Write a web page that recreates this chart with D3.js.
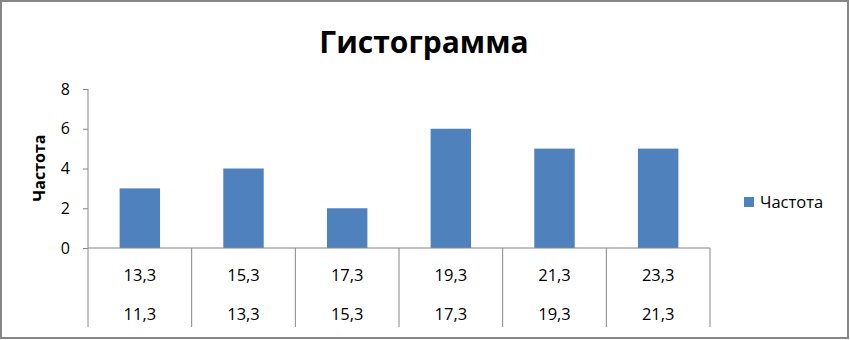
<!DOCTYPE html>
<html><head><meta charset="utf-8">
<script src="https://cdn.jsdelivr.net/npm/d3@7"></script>
<style>body{margin:0;background:#fff}svg{display:block}</style>
</head><body>
<script>
const upperLabels = ["13,3","15,3","17,3","19,3","21,3","23,3"];
const lowerLabels = ["11,3","13,3","15,3","17,3","19,3","21,3"];
const frequency = [3,4,2,6,5,5];
const yTicks = [0,2,4,6,8];
const seriesName = "Частота";
const titleText = "Гистограмма";

(function(){
const W = 850, H = 340;
const font = "Open Sans, Liberation Sans, sans-serif";
const svg = d3.select("body").append("svg").attr("width", W).attr("height", H);

svg.append("rect").attr("x",1).attr("y",1).attr("width",W-3).attr("height",H-3)
  .attr("fill","#fff").attr("stroke","#868686").attr("stroke-width",2);

const pLeft = 88, pRight = 710, pTop = 89, base = 248, labelBottom = 327;
const idx = d3.range(frequency.length);
const x = d3.scaleBand().domain(idx).range([pLeft, pRight]).padding(0);
const y = d3.scaleLinear().domain([0, 8]).range([base, pTop]);

svg.append("text").attr("x", 424).attr("y", 53).attr("text-anchor","middle")
  .attr("font-family", font).attr("font-weight","bold").attr("font-size", 30)
  .attr("fill","#000").text(titleText);

const bw = x.bandwidth()*0.39;
svg.selectAll("rect.bar").data(frequency).enter().append("rect").attr("class","bar")
  .attr("x",(d,i)=>x(i)+x.bandwidth()/2-bw/2).attr("width",bw)
  .attr("y",d=>y(d)).attr("height",d=>base-y(d)).attr("fill","#4F81BD");

const yAxis = d3.axisLeft(y).tickValues(yTicks).tickSize(5).tickPadding(13).tickFormat(d3.format("d"));
const ga = svg.append("g").attr("transform",`translate(${pLeft},0)`).call(yAxis);
ga.select(".domain").remove();
ga.selectAll(".tick line").attr("stroke","#868686");
ga.selectAll(".tick text").attr("font-family",font).attr("font-size",16).attr("fill","#000");
svg.append("line").attr("x1",pLeft).attr("x2",pLeft).attr("y1",pTop).attr("y2",labelBottom)
  .attr("stroke","#868686");
svg.append("line").attr("x1",pLeft).attr("x2",pRight).attr("y1",base).attr("y2",base)
  .attr("stroke","#868686");

svg.selectAll("line.sep").data(idx).enter().append("line").attr("class","sep")
  .attr("x1",i=>x(i)+x.bandwidth()).attr("x2",i=>x(i)+x.bandwidth())
  .attr("y1",base).attr("y2",labelBottom).attr("stroke","#868686");

svg.selectAll("text.up").data(upperLabels).enter().append("text").attr("class","up")
  .attr("x",(d,i)=>x(i)+x.bandwidth()/2).attr("y",281).attr("text-anchor","middle")
  .attr("font-family",font).attr("font-size",16.5).attr("fill","#000").text(d=>d);
svg.selectAll("text.lo").data(lowerLabels).enter().append("text").attr("class","lo")
  .attr("x",(d,i)=>x(i)+x.bandwidth()/2).attr("y",320).attr("text-anchor","middle")
  .attr("font-family",font).attr("font-size",16.5).attr("fill","#000").text(d=>d);

svg.append("text").attr("transform","translate(45,168) rotate(-90)").attr("text-anchor","middle")
  .attr("font-family",font).attr("font-weight","bold").attr("font-size",16).attr("fill","#000")
  .text(seriesName);

svg.append("rect").attr("x",744).attr("y",197).attr("width",10).attr("height",10).attr("fill","#4F81BD");
svg.append("text").attr("x",760).attr("y",208).attr("font-family",font).attr("font-size",16.5)
  .attr("fill","#000").text(seriesName);
})();
</script>
</body></html>
